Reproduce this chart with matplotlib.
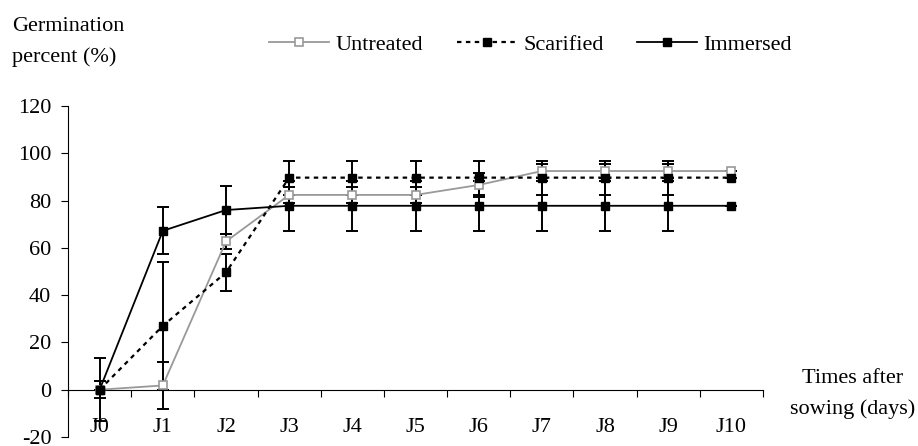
import matplotlib
matplotlib.use('Agg')
import matplotlib.pyplot as plt

plt.rcParams['font.family'] = ['Liberation Serif', 'DejaVu Serif']
plt.rcParams['axes.unicode_minus'] = False

days = ['J0', 'J1', 'J2', 'J3', 'J4', 'J5', 'J6', 'J7', 'J8', 'J9', 'J10']
untreated = [0, 1.8, 62.7, 82.4, 82.4, 82.4, 86.6, 92.5, 92.5, 92.5, 92.5]
untreated_err = [0, 10, 3, 3.5, 3.5, 3.5, 5, 3, 3, 3, 0]
scarified = [0, 27, 49.6, 89.7, 89.7, 89.7, 89.7, 89.7, 89.7, 89.7, 89.7]
scarified_err = [3.7, 27, 8, 7.2, 7.2, 7.2, 7.2, 7.2, 7.2, 7.2, 0]
immersed = [0, 67.2, 76, 77.8, 77.8, 77.8, 77.8, 77.8, 77.8, 77.8, 77.8]
immersed_err = [13.3, 10, 10, 10.5, 10.5, 10.5, 10.5, 10.5, 10.5, 10.5, 0]

fs = 16
fig = plt.figure(figsize=(9.18, 4.46), dpi=100)
ax = fig.add_axes([0.0741, 0.0202, 0.8312 - 0.0741, 0.7623 - 0.0202])

x = list(range(len(days)))
eb = dict(fmt='none', ecolor='black', elinewidth=1.4, capsize=4.5, capthick=1.4)
ax.errorbar(x, untreated, yerr=untreated_err, zorder=2, **eb)
ax.errorbar(x, scarified, yerr=scarified_err, zorder=2, **eb)
ax.errorbar(x, immersed, yerr=immersed_err, zorder=2, **eb)

ax.plot(x, untreated, color='#999999', lw=1.3, marker='s', ms=6,
        mfc='white', mec='#999999', mew=1.2, label='Untreated', zorder=3)
ax.plot(x, scarified, color='black', lw=1.6, ls=(0, (2, 2)), marker='s', ms=6,
        mfc='black', mec='black', label='Scarified', zorder=4)
ax.plot(x, immersed, color='black', lw=1.3, marker='s', ms=6,
        mfc='black', mec='black', label='Immersed', zorder=5)

ax.set_xlim(-0.5, 10.5)
ax.set_ylim(-20, 120)
ax.set_yticks(range(-20, 121, 20))
ax.spines['top'].set_visible(False)
ax.spines['right'].set_visible(False)
ax.spines['bottom'].set_position(('data', 0))
for s in ('left', 'bottom'):
    ax.spines[s].set_linewidth(0.8)

ax.set_xticks([i - 0.5 for i in range(len(days) + 1)])
ax.set_xticklabels([])
ax.tick_params(axis='x', direction='out', length=5, width=0.8)
ax.tick_params(axis='y', direction='out', length=5, width=0.8, pad=7, labelsize=fs)
for i, d in enumerate(days):
    ax.text(i, -16, d, ha='center', va='center', fontsize=fs)

fig.text(0.013, 1 - 42 / 446, 'Germination\npercent (%)', ha='left', va='center',
         fontsize=fs, linespacing=1.75)
fig.text(0.929, 1 - 394 / 446, 'Times after\nsowing (days)', ha='center', va='center',
         fontsize=fs, linespacing=1.75)

fig.legend(loc='center', bbox_to_anchor=(0.578, 1 - 45 / 446), ncol=3, frameon=False,
           fontsize=fs, handlelength=2.7, handletextpad=0.3, columnspacing=1.5)

fig.savefig('out.png', dpi=100)
